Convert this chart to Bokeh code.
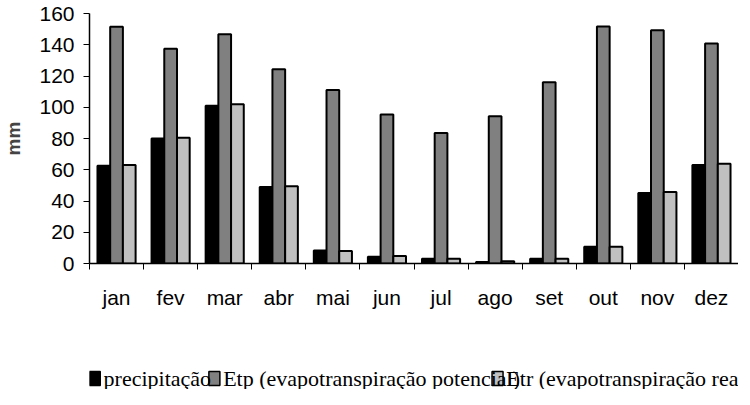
from bokeh.plotting import figure
from bokeh.layouts import column
from bokeh.models import Range1d, FixedTicker, ColumnDataSource
from bokeh.core.properties import value
from bokeh.transform import dodge
from bokeh.embed import file_html
from bokeh.resources import INLINE

months = ["jan", "fev", "mar", "abr", "mai", "jun", "jul", "ago", "set", "out", "nov", "dez"]
precipitacao = [62.5, 80, 101, 49, 8.3, 4.3, 3, 1, 3, 10.7, 45.2, 63]
etp = [151.5, 137.5, 146.8, 124.4, 111, 95.4, 83.6, 94.3, 116, 151.7, 149.3, 140.8]
etr = [63, 80.5, 102, 49.5, 8, 4.8, 3, 1.5, 3, 10.7, 45.7, 63.8]
y_ticks = [0, 20, 40, 60, 80, 100, 120, 140, 160]
series_labels = ["precipitação", "Etp (evapotranspiração potencial)", "Etr (evapotranspiração real)"]
series_fields = ["precip", "etp", "etr"]
series_colors = ["black", "#808080", "#c0c0c0"]

n = len(months)
centers = [i + 0.5 for i in range(n)]
edges = list(range(n + 1))
src = ColumnDataSource(dict(xc=centers, month=months, precip=precipitacao, etp=etp, etr=etr))

W = 738
p = figure(x_range=Range1d(0, n),
           y_range=Range1d(0, 160),
           width=W, height=320,
           output_backend="svg", toolbar_location=None,
           min_border_left=84, min_border_right=0, min_border_top=13, min_border_bottom=57)

p.grid.visible = False
p.outline_line_color = None
p.background_fill_color = "white"
p.border_fill_color = "white"

w = 0.235
offsets = [-w, 0, w]
for field, color, off in zip(series_fields, series_colors, offsets):
    p.vbar(x=dodge("xc", off), top=field, width=w, source=src,
           fill_color=color, line_color="black", line_width=2)

# y axis
ya = p.yaxis[0]
ya.ticker = FixedTicker(ticks=y_ticks)
ya.axis_label = "mm"
ya.axis_label_text_font = "Liberation Sans"
ya.axis_label_text_font_style = "bold"
ya.axis_label_text_font_size = "19px"
ya.axis_label_standoff = 12
ya.major_label_text_font = "Liberation Sans"
ya.major_label_text_font_size = "21px"
ya.major_label_text_color = "black"
ya.major_label_standoff = 9
ya.major_tick_out = 6
ya.major_tick_in = 0
ya.minor_tick_line_color = None
ya.axis_line_color = "black"
ya.axis_line_width = 1.5
ya.major_tick_line_color = "black"

# x axis: labels at category centres, tick marks at category boundaries
xa = p.xaxis[0]
xa.ticker = FixedTicker(ticks=centers, minor_ticks=edges)
xa.major_label_overrides = {c: m for c, m in zip(centers, months)}
xa.major_tick_line_color = None
xa.major_tick_out = 0
xa.major_tick_in = 0
xa.minor_tick_line_color = "black"
xa.minor_tick_out = 6
xa.minor_tick_in = 0
xa.axis_line_color = "black"
xa.axis_line_width = 1.5
xa.major_label_text_font = "Liberation Sans"
xa.major_label_text_font_size = "21px"
xa.major_label_text_color = "black"
xa.major_label_standoff = 16

# legend strip below the chart (screen-like coordinates: 1 unit = 1 px)
H2 = 69
pl = figure(x_range=Range1d(0, W), y_range=Range1d(0, H2),
            width=W, height=H2, output_backend="svg", toolbar_location=None,
            x_axis_location=None, y_axis_location=None,
            min_border_left=0, min_border_right=0, min_border_top=0, min_border_bottom=0)
pl.grid.visible = False
pl.outline_line_color = None
pl.background_fill_color = "white"
pl.border_fill_color = "white"

leg_glyph_x = [6, 142, 464]
leg_text_x = [16, 152, 474]
leg_y = [11, 11, 11]
leg_src = ColumnDataSource(dict(gx=leg_glyph_x, tx=leg_text_x, y=leg_y,
                                color=series_colors, label=series_labels))
pl.rect(x="gx", y="y", width=11, height=14, width_units="screen", height_units="screen",
        fill_color="color", line_color="black", line_width=1.5, source=leg_src)
pl.text(x="tx", y="y", text="label", source=leg_src,
        text_font=value("Liberation Serif"), text_font_size="22px",
        text_color="black", text_baseline="middle", text_align="left")

open("out.html", "w").write(file_html(column(p, pl, spacing=0), INLINE))
